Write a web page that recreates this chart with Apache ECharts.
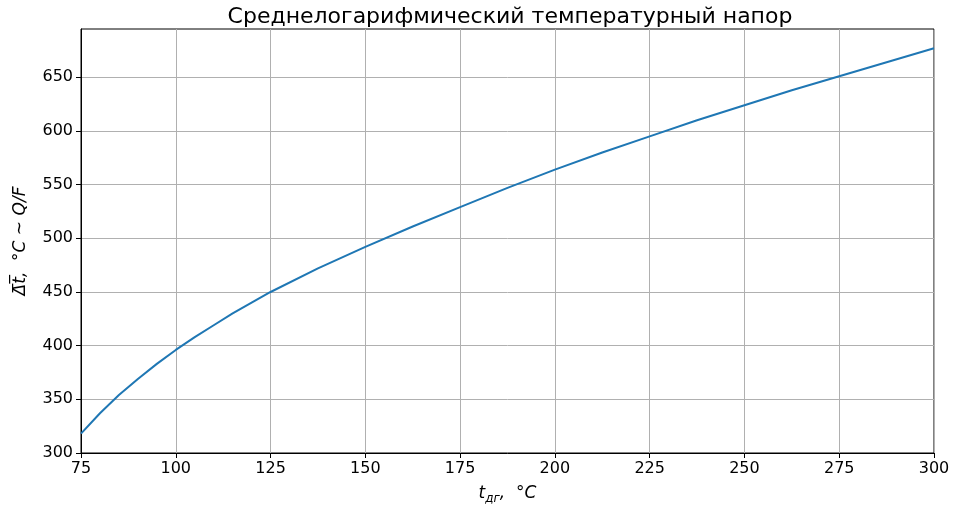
<!DOCTYPE html>
<html>
<head>
<meta charset="utf-8">
<script src="https://cdn.jsdelivr.net/npm/echarts@6/dist/echarts.min.js"></script>
<style>
  html, body { margin: 0; padding: 0; background: #fff; }
  #main { width: 966px; height: 510px; }
</style>
</head>
<body>
<div id="main"></div>
<script>
  var myChart = echarts.init(document.getElementById('main'));

  // температура дымовых газов, °C
  var tDg = [75, 80, 85, 90, 95, 100, 105, 110, 115, 120, 125,
             137.5, 150, 162.5, 175, 187.5, 200, 212.5, 225, 237.5,
             250, 262.5, 275, 287.5, 300];
  // среднелогарифмический напор
  var dtLog = [318, 337, 354, 369, 383, 396, 408, 419, 430, 440, 450,
               472, 492, 511, 529, 547, 564, 580, 595, 610,
               624, 638, 651, 664, 677];

  var xTicks = [75, 100, 125, 150, 175, 200, 225, 250, 275, 300];
  var yTicks = [300, 350, 400, 450, 500, 550, 600, 650];

  var font = 'DejaVu Sans';

  var data = [];
  for (let i = 0; i < tDg.length; i++) {
    data.push([tDg[i], dtLog[i]]);
  }

  var option = {
    animation: false,
    backgroundColor: '#fff',
    title: {
      text: 'Среднелогарифмический температурный напор',
      left: 505,
      top: 1,
      textAlign: 'center',
      textStyle: { fontFamily: font, fontSize: 22, fontWeight: 'normal', color: '#000' }
    },
    grid: {
      left: 81, right: 32, top: 29, bottom: 57,
      show: true, borderColor: '#000', borderWidth: 1
    },
    xAxis: {
      type: 'value',
      min: 75, max: 300, interval: 25,
      name: '{t|t}{sub|дг}{n|,  °C}',
      nameLocation: 'middle',
      nameGap: 30,
      nameTextStyle: {
        fontFamily: font,
        rich: {
          t: { fontFamily: font, fontSize: 17, fontStyle: 'italic', color: '#000' },
          sub: { fontFamily: font, fontSize: 12, fontStyle: 'italic', color: '#000', padding: [10, 0, 0, 0] },
          n: { fontFamily: font, fontSize: 17, fontStyle: 'italic', color: '#000' }
        }
      },
      axisLine: { show: true, lineStyle: { color: '#000' } },
      axisTick: { show: true, length: 5, lineStyle: { color: '#000' } },
      axisLabel: { fontFamily: font, fontSize: 16, color: '#000', margin: 8,
                   customValues: xTicks },
      splitLine: { show: true, lineStyle: { color: '#b0b0b0', width: 1 } }
    },
    yAxis: {
      type: 'value',
      min: 300, max: 695, interval: 50,
      name: '{d|Δ̅t̅}{n|,  °C ~ Q/F}',
      nameLocation: 'middle',
      nameGap: 52,
      nameTextStyle: {
        fontFamily: font,
        rich: {
          d: { fontFamily: font, fontSize: 17, fontStyle: 'italic', color: '#000' },
          n: { fontFamily: font, fontSize: 17, fontStyle: 'italic', color: '#000' }
        }
      },
      axisLine: { show: true, lineStyle: { color: '#000' } },
      axisTick: { show: true, length: 5, lineStyle: { color: '#000' },
                  customValues: yTicks },
      axisLabel: { fontFamily: font, fontSize: 16, color: '#000', margin: 8,
                   customValues: yTicks },
      splitLine: { show: true, lineStyle: { color: '#b0b0b0', width: 1 } }
    },
    series: [{
      type: 'line',
      data: data,
      smooth: false,
      showSymbol: false,
      lineStyle: { color: '#1f77b4', width: 2 }
    }]
  };

  myChart.setOption(option);
</script>
</body>
</html>
